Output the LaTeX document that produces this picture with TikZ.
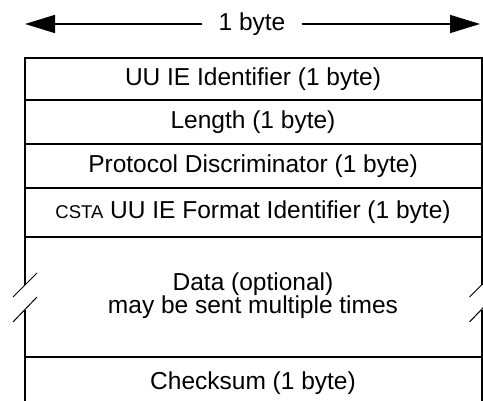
\documentclass[tikz,border=0pt]{standalone}
\usepackage{fontspec}
\setmainfont{Liberation Sans}
\usetikzlibrary{arrows.meta,positioning}
\definecolor{ink}{RGB}{0,0,0}
\tikzset{
  >={Triangle[length=30pt,width=18pt]},
  field/.style={font=\fontsize{24.5}{23}\selectfont,text=ink,align=center,inner sep=0pt},
  span/.style={->,draw=ink,line width=1.5pt},
  rule/.style={draw=ink,line width=2pt},
  cut/.style={draw=ink,line width=1pt},
}

\begin{document}
\begin{tikzpicture}[x=1pt,y=1pt]
  \useasboundingbox (0,0) rectangle (483,-401);
  % width arrow
  \coordinate (lft) at (25,-24);
  \coordinate (rgt) at (480,-24);
  \node[field,inner xsep=16pt,fill=white] (width) at (252,-24) {1 byte};
  \draw[span] (width.west) -- (lft);
  \draw[span] (width.east) -- (rgt);
  % frame
  \draw[rule] (25,-285) -- (25,-58) -- (481.5,-58) -- (481.5,-285);
  \draw[rule] (25,-310) -- (25,-410);
  \draw[rule] (481.5,-310) -- (481.5,-410);
  \foreach \y in {100,144,188,237,357}
    \draw[rule] (25,-\y) -- (481.5,-\y);
  % break marks
  \foreach \x in {25,481.5} {
    \draw[cut] (\x-12,-297) -- (\x+12,-273);
    \draw[cut] (\x-12,-322) -- (\x+12,-297);
  }
  % fields
  \node[field] (ident) at (253,-79) {UU IE Identifier (1 byte)};
  \node[field] (len) at (253,-122) {Length (1 byte)};
  \node[field] (proto) at (253,-166) {Protocol Discriminator (1 byte)};
  \node[field] (format) at (253,-212.5) {{\fontsize{18.5}{20}\selectfont CSTA} UU IE Format Identifier (1 byte)};
  \node[field] (data) at (253,-296) {Data (optional)\\may be sent multiple times};
  \node[field] (sum) at (253,-383) {Checksum (1 byte)};
\end{tikzpicture}
\end{document}
